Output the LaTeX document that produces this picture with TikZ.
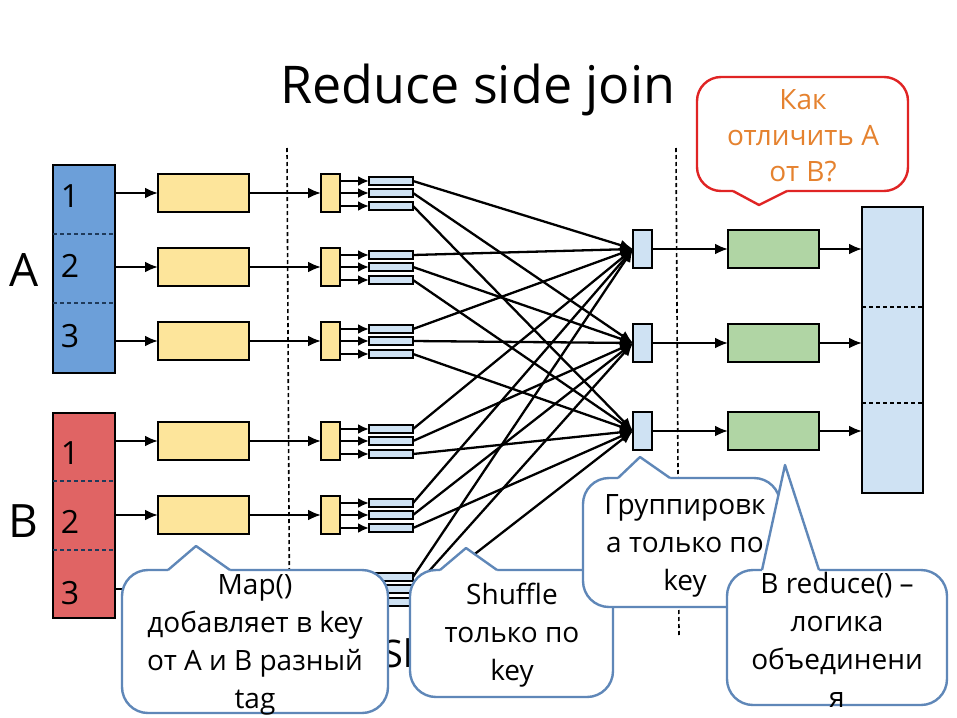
\documentclass[tikz,border=0pt]{standalone}
\usepackage{fontspec}
\setmainfont{Open Sans}
\usetikzlibrary{arrows.meta}
\definecolor{ablue}{HTML}{6C9FD9}
\definecolor{bred}{HTML}{E06464}
\definecolor{yel}{HTML}{FDE59B}
\definecolor{lblue}{HTML}{CFE2F3}
\definecolor{grn}{HTML}{B0D5A4}
\definecolor{orng}{HTML}{E5822F}
\definecolor{cred}{HTML}{E02424}
\definecolor{cblue}{HTML}{5F87B8}
\definecolor{navy}{HTML}{1F3A5A}
\tikzset{
 bx/.style={draw=black, line width=2.3pt, inner sep=0pt, outer sep=0pt},
 mapbox/.style={bx, fill=yel, minimum width=91pt, minimum height=38pt},
 smallbox/.style={bx, minimum width=19pt, minimum height=38pt},
 barbox/.style={draw=black, line width=1.8pt, fill=lblue, minimum width=44pt, minimum height=8pt, inner sep=0pt, outer sep=0pt},
 arr/.style={line width=2.3pt, -{Latex[length=13pt,width=11pt]}},
 sarr/.style={line width=2.3pt, -{Latex[length=11pt,width=10pt]}},
 sepline/.style={line width=1.6pt, dash pattern=on 4pt off 3pt},
 coll/.style={draw=cblue, line width=2.4pt, fill=white, rounded corners=26pt},
 ptr/.style={cblue, line width=2.4pt, line join=round},
 ctext/.style={align=center, font=\fontsize{28}{38}\selectfont, inner sep=0pt},
}
\begin{document}
\begin{tikzpicture}[x=1pt,y=-1pt]
\useasboundingbox[fill=white] (0,0) rectangle (957,717);

% title
\node[font=\fontsize{52}{52}\selectfont] (title) at (478,90) {Reduce side join};

% separators
\coordinate (s1t) at (287,148); \coordinate (s1b) at (290,700);
\coordinate (s2t) at (676,148); \coordinate (s2b) at (679,636);
\draw[sepline] (s1t) -- (s1b);
\draw[sepline] (s2t) -- (s2b);

% input columns
\node[bx, fill=ablue, minimum width=62pt, minimum height=208pt] (Acol) at (84,269) {};
\node[bx, fill=bred, minimum width=62pt, minimum height=205pt] (Bcol) at (84,515.5) {};
\draw[sepline, navy, line width=2pt] (53,234) -- (115,234);
\draw[sepline, navy, line width=2pt] (53,303) -- (115,303);
\draw[sepline, navy, line width=2pt] (53,481) -- (115,481);
\draw[sepline, navy, line width=2pt] (53,550) -- (115,550);
\node[font=\fontsize{46}{46}\selectfont] (labA) at (24,270) {A};
\node[font=\fontsize{46}{46}\selectfont] (labB) at (23,521) {B};
\foreach \t/\y [count=\j] in {1/196,2/266,3/336,1/453,2/522,3/593}
  \node[font=\fontsize{32}{32}\selectfont] (num\j) at (70,\y) {\t};

% output column
\node[bx, fill=lblue, minimum width=61pt, minimum height=286pt] (out) at (892.5,350) {};
\draw[sepline, line width=2pt] (862,307) -- (923,307);
\draw[sepline, line width=2pt] (862,403) -- (923,403);

% mappers
\foreach \y [count=\i] in {193,267,341,441,515,589} {
  \node[mapbox] (m\i) at (203.5,\y) {};
  \node[smallbox, fill=yel] (s\i) at (330.5,\y) {};
  \draw[arr] (m\i) -- (s\i);
  \foreach \o [count=\k] in {-12,0,13} {
    \node[barbox] (b\i-\k) at (391,{\y+(\o)}) {};
    \draw[sarr] (s\i.east |- b\i-\k) -- (b\i-\k.west);
  }
}
\foreach \i in {1,2,3} \draw[arr] (Acol.east |- m\i) -- (m\i);
\foreach \i in {4,5,6} \draw[arr] (Bcol.east |- m\i) -- (m\i);

% reducers
\foreach \y [count=\k] in {249,343,431} {
  \node[smallbox, fill=lblue] (r\k) at (642.5,\y) {};
  \node[bx, fill=grn, minimum width=91pt, minimum height=38pt] (g\k) at (773.5,\y) {};
  \draw[arr] (r\k) -- (g\k);
  \draw[arr] (g\k) -- (out.west |- g\k);
}

% shuffle
\foreach \i in {1,...,6}
  \foreach \k in {1,2,3}
    \draw[arr] (b\i-\k.east) -- (r\k.west);

\node[anchor=west, font=\fontsize{38}{38}\selectfont, inner sep=0pt] (sh) at (382,653) {Sh};

% red callout
\draw[draw=cred, line width=2.4pt, fill=white, rounded corners=24pt] (697,77) rectangle (908,191);
\fill[white] (733,191) -- (759,205) -- (787,191) -- (787,188) -- (733,188) -- cycle;
\draw[cred, line width=2.4pt, line join=round] (733,191) -- (759,205) -- (787,191);
\node[ctext, text=orng, font=\fontsize{28}{36}\selectfont] (t0) at (803,136) {Как\\отличить A\\от B?};

% callout 1
\draw[coll] (122,570) rectangle (388,713);
\fill[white] (168,570) -- (196,546) -- (230,570) -- (230,573) -- (168,573) -- cycle;
\draw[ptr] (168,570) -- (196,546) -- (230,570);
\node[ctext] (t1) at (255,645) {Map()\\добавляет в key\\от A и B разный\\tag};

% callout 2
\draw[coll] (410,570) rectangle (613,697);
\fill[white] (440,570) -- (466,548) -- (497,570) -- (497,573) -- (440,573) -- cycle;
\draw[ptr] (440,570) -- (466,548) -- (497,570);
\node[ctext] (t2) at (512,635) {Shuffle\\только по\\key};

% callout 3
\draw[coll] (583,478) rectangle (780,607);
\fill[white] (618,478) -- (640,457) -- (670,478) -- (670,481) -- (618,481) -- cycle;
\draw[ptr] (618,478) -- (640,457) -- (670,478);
\node[ctext] (t3) at (685,546) {Группировк\\а только по\\key};

% callout 4
\draw[coll] (727,570) rectangle (947,705);
\fill[white] (762,570) -- (785,465) -- (819,570) -- (819,573) -- (762,573) -- cycle;
\draw[ptr] (762,570) -- (785,465) -- (819,570);
\node[ctext] (t4) at (837,640) {В reduce() –\\логика\\объединени\\я};
\end{tikzpicture}
\end{document}
